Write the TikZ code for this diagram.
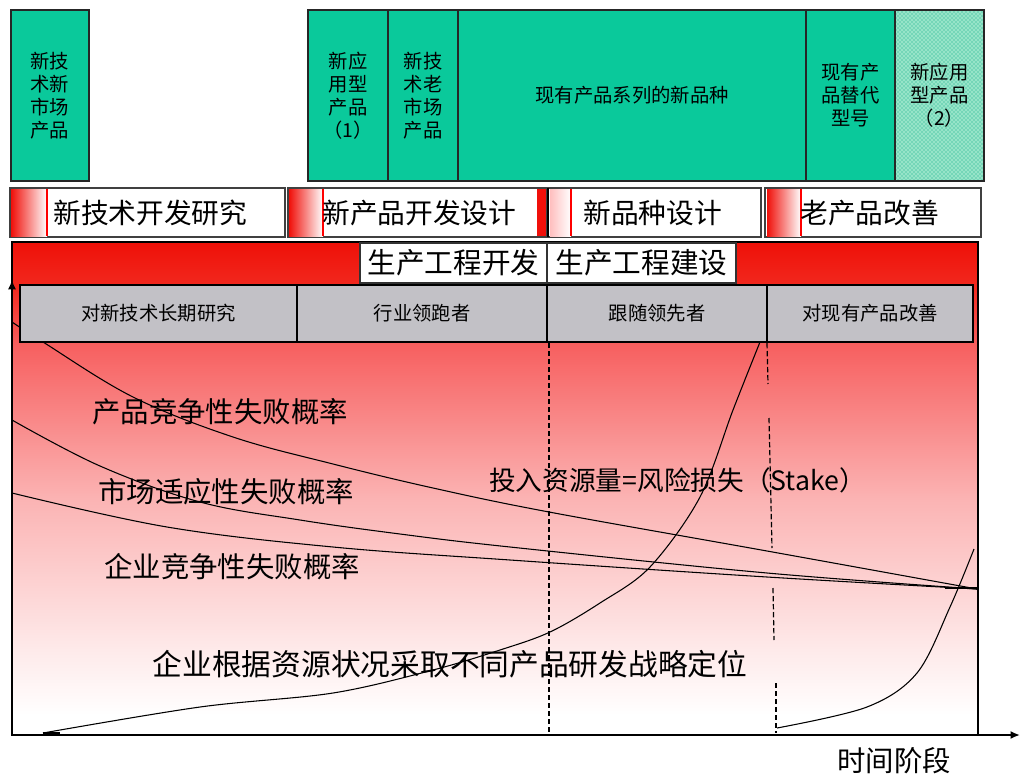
\documentclass[tikz,border=0pt]{standalone}
\usepackage{fontspec}
\setmainfont{Noto Sans CJK SC}
\usetikzlibrary{arrows.meta,patterns}
\definecolor{grn}{RGB}{10,201,155}
\definecolor{grnlt}{RGB}{150,228,200}
\definecolor{gry}{RGB}{194,193,198}
\definecolor{rd}{RGB}{240,16,10}
\definecolor{sa}{RGB}{238,16,8}
\definecolor{sb}{RGB}{242,40,30}
\definecolor{sc}{RGB}{247,96,96}
\definecolor{sd}{RGB}{251,180,180}
\definecolor{se}{RGB}{254,234,234}
\pgfdeclareverticalshading{panelshade}{100bp}{color(0bp)=(white); color(27bp)=(white); color(33.6bp)=(se); color(48.8bp)=(sd); color(64.5bp)=(sc); color(70.6bp)=(sb); color(75bp)=(sa); color(100bp)=(sa)}
\tikzset{
  sz/.style 2 args={minimum width=#1*0.75pt, minimum height=#2*0.75pt},
  gbox/.style={draw=black!85, line width=1.5pt, fill=grn, inner sep=0pt, outer sep=0pt, anchor=north west, align=center, font=\fontsize{14.5pt}{17.3pt}\selectfont},
  rbox/.style={draw=black!75, line width=1pt, fill=white, inner sep=0pt, outer sep=0pt, anchor=north west},
  pbox/.style={draw=black!80, line width=1pt, fill=white, inner sep=0pt, outer sep=0pt, anchor=north west, font=\fontsize{21.5pt}{22pt}\selectfont},
  qbox/.style={draw=black, line width=1.2pt, fill=gry, inner sep=0pt, outer sep=0pt, anchor=north west, font=\fontsize{14.5pt}{15pt}\selectfont},
  rlbl/.style={anchor=west, inner sep=0pt, font=\fontsize{20.8pt}{21pt}\selectfont},
  clbl/.style={inner sep=0pt, font=\fontsize{21.3pt}{22pt}\selectfont},
  curve/.style={draw=black, line width=0.8pt},
  dline/.style={draw=black, line width=0.9pt, dash pattern=on 4pt off 2pt},
}
\begin{document}
\begin{tikzpicture}[x=0.75pt,y=-0.75pt]
\useasboundingbox (0,0) rectangle (1020,774);

% green product boxes
\node[gbox, sz={78}{171}] (g1) at (11,10) {新技\\术新\\市场\\产品};
\node[gbox, sz={80}{171}] (g2) at (308,10) {新应\\用型\\产品\\（1）};
\node[gbox, sz={70}{171}] (g3) at (388,10) {新技\\术老\\市场\\产品};
\node[gbox, sz={348}{171}] (g4) at (458,10) {现有产品系列的新品种};
\node[gbox, sz={89}{171}] (g5) at (806,10) {现有产\\品替代\\型号};
\node[gbox, sz={89}{171}, preaction={fill=grnlt}, pattern=crosshatch dots, pattern color=grn!85!black] (g6) at (895,10) {};
\node[align=center, font=\fontsize{14.5pt}{17.3pt}\selectfont] (g6t) at (g6.center) {新应用\\型产品\\（2）};

% development stage boxes
\node[rbox, sz={275}{49}] (r1) at (10,188) {};
\node[rbox, sz={259}{49}] (r2) at (288,188) {};
\node[rbox, sz={214}{49}] (r3) at (547,188) {};
\node[rbox, sz={216}{49}] (r4) at (765,188) {};
\shade[left color=rd, right color=white] (11,189) rectangle (47,236);
\draw[red, line width=1pt] (47,189) -- (47,236);
\shade[left color=rd, right color=white] (289,189) rectangle (323,236);
\draw[red, line width=1pt] (323,189) -- (323,236);
\fill[rd] (537,189) rectangle (546,236);
\draw[black, line width=2pt] (548,188) -- (548,237);
\shade[left color=red!25, right color=white] (550,189) rectangle (571,236);
\draw[red, line width=1pt] (571,189) -- (571,236);
\shade[left color=rd, right color=white] (767,189) rectangle (801,236);
\draw[red, line width=1pt] (801,189) -- (801,236);
\node[rlbl] (t1) at (53,213) {新技术开发研究};
\node[rlbl] (t2) at (322,213) {新产品开发设计};
\node[rlbl] (t3) at (583,213) {新品种设计};
\node[rlbl] (t4) at (800,213) {老产品改善};

% main panel
\shade[shading=panelshade] (12,242) rectangle (978,735);
\node[draw=black, line width=0.8pt, sz={966}{493}, inner sep=0pt, outer sep=0pt, anchor=north west] (panel) at (12,242) {};

% curves
\draw[curve] plot[smooth, tension=0.6] coordinates {(12,322) (43,342) (133,397) (233,437) (333,464) (433,488) (549,512) (767,551) (977,589)};
\draw[curve] plot[smooth, tension=0.6] coordinates {(12,420) (100,466) (200,502) (300,520) (400,534) (510,547) (767,573) (977,589)};
\draw[curve] plot[smooth, tension=0.6] coordinates {(12,493) (167,527) (333,547) (510,560) (767,577) (977,589)};
\draw[curve] plot[smooth, tension=0.55] coordinates {(43,733) (200,707) (333,693) (433,670) (500,650) (550,632) (600,603) (650,567) (700,497) (733,410) (760,342)};
\draw[curve] plot[smooth, tension=0.55] coordinates {(777,728) (867,707) (917,673) (950,607) (974,549)};
\draw[black, line width=1.6pt] (945,588) -- (978,588);
\draw[black, line width=2pt] (43,733) -- (60,733);

% dashed stage separators
\coordinate (d1a) at (549,343);
\coordinate (d1b) at (549,735);
\draw[dline] (d1a) -- (d1b);
\draw[dline] (767,343) -- (768,384);
\draw[dline] (769,418) -- (772,548);
\draw[dline] (773,588) -- (774,640);
\draw[dline] (776,683) -- (776,733);

% production engineering labels
\node[pbox, sz={187}{40}] (p1) at (360,243) {生产工程开发};
\node[pbox, sz={189}{40}] (p2) at (547,243) {生产工程建设};

% strategy boxes
\node[qbox, sz={277}{57}] (q1) at (20,285) {对新技术长期研究};
\node[qbox, sz={250}{57}] (q2) at (297,285) {行业领跑者};
\node[qbox, sz={220}{57}] (q3) at (547,285) {跟随领先者};
\node[qbox, sz={206}{57}] (q4) at (767,285) {对现有产品改善};

% axes
\coordinate (o) at (12,735);
\coordinate (ytop) at (12,280);
\coordinate (xend) at (1020,735);
\draw[black, line width=1pt, -{Latex[length=7pt,width=6pt]}] (o) -- (ytop);
\draw[black, line width=1.8pt, -{Latex[length=7pt,width=6pt]}] (o) -- (xend);

% curve labels
\node[clbl] (la) at (220,412) {产品竞争性失败概率};
\node[clbl] (lb) at (226,492) {市场适应性失败概率};
\node[clbl] (lc) at (232,567) {企业竞争性失败概率};
\node[inner sep=0pt, font=\fontsize{22.3pt}{23pt}\selectfont] (ld) at (450,664) {企业根据资源状况采取不同产品研发战略定位};
\node[inner sep=0pt, anchor=west, font=\fontsize{20pt}{21pt}\selectfont] (le) at (489,480) {投入资源量=风险损失（Stake）};
\node[clbl] (lt) at (894,761) {时间阶段};
\end{tikzpicture}
\end{document}
